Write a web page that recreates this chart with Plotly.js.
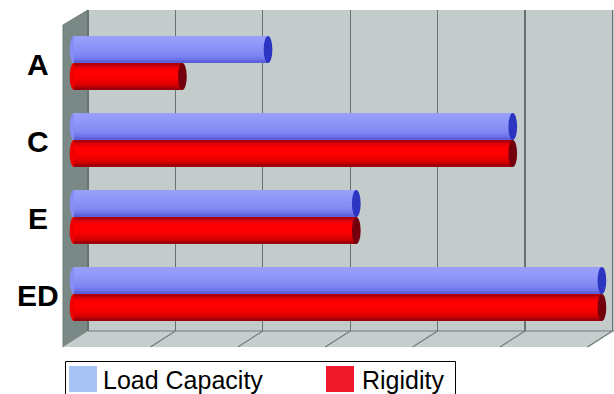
<!DOCTYPE html>
<html>
<head>
<meta charset="utf-8">
<script src="https://cdn.plot.ly/plotly-3.0.1.min.js"></script>
<style>
  html, body { margin: 0; padding: 0; background: #ffffff; }
  #chart { width: 614px; height: 394px; }
</style>
</head>
<body>
<div id="chart"></div>
<script>
// Product groups and their two measured properties
const categories = ['A', 'C', 'E', 'ED'];
const loadCapacity = [2.22, 5.02, 3.23, 6.04];
const rigidity = [1.24, 5.02, 3.23, 6.04];
const seriesNames = ['Load Capacity', 'Rigidity'];
const gridSteps = [0, 1, 2, 3, 4, 5, 6];

// Page geometry (pixels)
const W = 614, H = 394;
const M = { l: 63, r: 0, t: 10, b: 63 };
const plotW = W - M.l - M.r, plotH = H - M.t - M.b;
const X = px => (px - M.l) / plotW;            // pixel -> paper x
const Y = py => (H - M.b - py) / plotH;        // pixel -> paper y

// Box-frame geometry: back wall, depth offset of the floor / side wall
const wallX = 88, wallTop = 10, wallBottom = 331;
const depthDx = -25, depthDy = 16;
const unitPx = 87.4;
const barStart = 74;                            // value 0 on the bar plane
const wallShift = (wallX - barStart) / unitPx;  // back-wall grid offset in value units

// Cylinder shading, top to bottom
const blueShades = ['#989ffa', '#959cf9', '#9299f9', '#8f96f8', '#8b92f6', '#878ef4', '#8289f2', '#7b81ef', '#7076e9', '#5c60d8'];
const redShades  = ['#b0000e', '#e00008', '#f80002', '#ff0000', '#ff0000', '#fa0000', '#f00000', '#e20000', '#cc0000', '#9c000c'];
const barH = 0.35;

const traces = [];
function addCylinder(values, shades, base, name) {
  const n = shades.length;
  const w = barH / n;
  shades.forEach((c, k) => {
    const last = k === n - 1;
    traces.push({
      type: 'bar', orientation: 'h', name: name,
      y: categories, x: values,
      width: last ? w : w + 0.012, offset: base + k * w,
      marker: { color: c, line: { width: 0 } },
      showlegend: false, hoverinfo: 'x+name'
    });
  });
}
addCylinder(loadCapacity, blueShades, -barH, seriesNames[0]);
addCylinder(rigidity, redShades, 0, seriesNames[1]);

const shapes = [];
// back wall
shapes.push({ type: 'rect', xref: 'paper', yref: 'paper', layer: 'below',
  x0: X(wallX), x1: X(W), y0: Y(wallBottom), y1: Y(wallTop),
  fillcolor: '#c4cccb', line: { width: 0 } });
// left side wall
shapes.push({ type: 'path', xref: 'paper', yref: 'paper', layer: 'between',
  path: `M${X(wallX + depthDx)},${Y(wallTop + 15)} L${X(wallX)},${Y(wallTop)} L${X(wallX)},${Y(wallBottom)} L${X(wallX + depthDx)},${Y(wallBottom + depthDy)} Z`,
  fillcolor: '#7a8986', line: { color: '#6f7e7b', width: 1 } });
// floor
shapes.push({ type: 'path', xref: 'paper', yref: 'paper', layer: 'between',
  path: `M${X(wallX)},${Y(wallBottom)} L${X(W)},${Y(wallBottom)} L${X(W + depthDx)},${Y(wallBottom + depthDy)} L${X(wallX + depthDx)},${Y(wallBottom + depthDy)} Z`,
  fillcolor: '#c6cecd', line: { width: 0 } });
shapes.push({ type: 'line', xref: 'paper', yref: 'paper', layer: 'between',
  x0: X(wallX), x1: X(W), y0: Y(wallBottom), y1: Y(wallBottom),
  line: { color: '#6f7c7a', width: 1.2 } });
// floor lines continue each back-wall grid line toward the viewer
gridSteps.slice(1).forEach(u => {
  shapes.push({ type: 'line', xref: 'x', yref: 'paper', layer: 'between',
    x0: u + wallShift, y0: Y(wallBottom),
    x1: u + wallShift + depthDx / unitPx, y1: Y(wallBottom + depthDy),
    line: { color: '#6f7c7a', width: 1.2 } });
});

// rounded starts and shaded end caps of the cylinders
const capW = 0.05;
function addCaps(values, base, bodyColor, capColor) {
  values.forEach((v, i) => {
    shapes.push({ type: 'circle', xref: 'x', yref: 'y', layer: 'between',
      x0: -capW, x1: capW, y0: i + base, y1: i + base + barH,
      fillcolor: bodyColor, line: { width: 0 } });
    shapes.push({ type: 'circle', xref: 'x', yref: 'y', layer: 'above',
      x0: v - capW, x1: v + capW, y0: i + base, y1: i + base + barH,
      fillcolor: capColor, line: { width: 0 } });
  });
}
addCaps(loadCapacity, -barH, '#868df4', '#2b35c2');
addCaps(rigidity, 0, '#ee0000', '#74000e');

// legend box with swatches
const legendSwatches = ['#a6c3f4', '#ee1a2c'];
shapes.push({ type: 'rect', xref: 'paper', yref: 'paper', layer: 'above',
  x0: X(65.5), x1: X(455.5), y0: Y(400), y1: Y(361.5),
  fillcolor: '#ffffff', line: { color: '#000000', width: 1 } });
shapes.push({ type: 'rect', xref: 'paper', yref: 'paper', layer: 'above',
  x0: X(69), x1: X(97), y0: Y(392), y1: Y(366),
  fillcolor: legendSwatches[0], line: { width: 0 } });
shapes.push({ type: 'rect', xref: 'paper', yref: 'paper', layer: 'above',
  x0: X(326), x1: X(354), y0: Y(392), y1: Y(366),
  fillcolor: legendSwatches[1], line: { width: 0 } });

const legendFont = { family: 'Liberation Sans, Arial, sans-serif', size: 25, color: '#000000' };
const annotations = [
  { xref: 'paper', yref: 'paper', x: X(101), y: Y(380), xanchor: 'left', yanchor: 'middle',
    text: seriesNames[0], showarrow: false, font: legendFont },
  { xref: 'paper', yref: 'paper', x: X(360), y: Y(380), xanchor: 'left', yanchor: 'middle',
    text: seriesNames[1], showarrow: false, font: legendFont }
];
// category labels, centred in the left margin
const catFont = { family: 'Liberation Sans, Arial, sans-serif', size: 30, weight: 'bold', color: '#000000' };
categories.forEach((c, i) => {
  annotations.push({ xref: 'paper', yref: 'y', x: X(38), y: i + 0.02, xanchor: 'center', yanchor: 'middle',
    text: c, showarrow: false, font: catFont });
});

const layout = {
  width: W, height: H,
  margin: M,
  paper_bgcolor: '#ffffff', plot_bgcolor: 'rgba(0,0,0,0)',
  barmode: 'overlay',
  showlegend: false,
  xaxis: { range: [(M.l - barStart) / unitPx, (W - barStart) / unitPx],
    tickmode: 'array', tickvals: gridSteps.map(u => u + wallShift),
    showgrid: true, gridcolor: '#66726f', gridwidth: 1.2,
    zeroline: false, showticklabels: false, ticks: '', showline: false, fixedrange: true },
  yaxis: { type: 'category', categoryorder: 'array', categoryarray: categories,
    range: [(wallBottom - 63) / 77, (wallTop - 63) / 77],
    showgrid: false, zeroline: false, ticks: '', showline: false, showticklabels: false,
    fixedrange: true },
  shapes: shapes,
  annotations: annotations
};

Plotly.newPlot('chart', traces, layout, { displayModeBar: false, staticPlot: true });
</script>
</body>
</html>
